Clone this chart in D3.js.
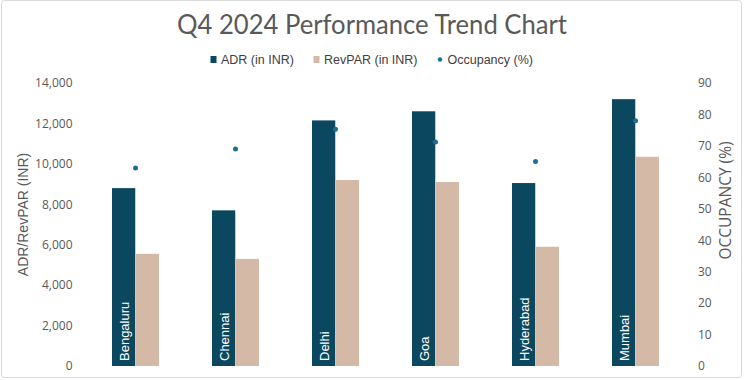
<!DOCTYPE html>
<html>
<head>
<meta charset="utf-8">
<script src="https://cdn.jsdelivr.net/npm/d3@7"></script>
<style>
  body { margin: 0; background: #fff; }
  svg { display: block; }
</style>
</head>
<body>
<script>
var width = 744;
var height = 380;

// data
var cities = ["Bengaluru", "Chennai", "Delhi", "Goa", "Hyderabad", "Mumbai"];
var adr = [8800, 7700, 12150, 12600, 9050, 13200];
var revpar = [5550, 5300, 9200, 9100, 5900, 10350];
var occupancy = [63, 69, 75.3, 71.2, 65, 78];
var leftTicks = [0, 2000, 4000, 6000, 8000, 10000, 12000, 14000];
var rightTicks = [0, 10, 20, 30, 40, 50, 60, 70, 80, 90];

var adrColor = "#0c4760";
var revColor = "#d3b9a6";
var occColor = "#1b6e96";
var textGray = "#595959";

var svg = d3.select("body")
    .append("svg")
    .attr("width", width)
    .attr("height", height)

// light frame round the chart
svg.append("rect")
    .attr("x", 1.5).attr("y", 0.5)
    .attr("width", 740).attr("height", 377)
    .attr("rx", 3)
    .attr("fill", "#fff")
    .attr("stroke", "#d9d9d9")

var plot = { left: 85.5, right: 685.5, top: 83, bottom: 366 };

var x = d3.scaleBand()
    .domain(cities)
    .range([plot.left, plot.right])
    .paddingInner(0.53)
    .paddingOuter(0.265)

var xSub = d3.scaleBand()
    .domain(["adr", "revpar"])
    .range([0, x.bandwidth()])
    .paddingInner(0.02)

var yLeft = d3.scaleLinear().domain([0, 14000]).range([plot.bottom, plot.top]);
var yRight = d3.scaleLinear().domain([0, 90]).range([plot.bottom, plot.top]);

// title
svg.append("text")
    .attr("x", 372).attr("y", 34)
    .attr("text-anchor", "middle")
    .attr("font-family", "Lato, 'Open Sans', sans-serif")
    .attr("font-size", 27)
    .attr("fill", textGray)
    .attr("textLength", 390)
    .attr("lengthAdjust", "spacingAndGlyphs")
    .text("Q4 2024 Performance Trend Chart")

// legend
var legend = svg.append("g")
    .attr("font-family", "'Liberation Sans', Arial, sans-serif")
    .attr("font-size", 12.5)
    .attr("fill", "#404040")

var lg = [
    { label: "ADR (in INR)", color: adrColor, type: "rect", x: 210.5 },
    { label: "RevPAR (in INR)", color: revColor, type: "rect", x: 313.5 },
    { label: "Occupancy (%)", color: occColor, type: "dot", x: 437 }
];
lg.forEach(function(d) {
    if (d.type == "rect") {
        legend.append("rect")
            .attr("x", d.x).attr("y", 56)
            .attr("width", 6).attr("height", 7)
            .attr("fill", d.color)
    } else {
        legend.append("circle")
            .attr("cx", d.x + 3).attr("cy", 59.5)
            .attr("r", 2.2)
            .attr("fill", d.color)
    }
    legend.append("text")
        .attr("x", d.x + 10.5).attr("y", 64)
        .text(d.label)
})

// left axis
var leftAxis = svg.append("g")
    .attr("transform", "translate(" + (plot.left - 13) + ",0)")
    .call(d3.axisLeft(yLeft).tickValues(leftTicks).tickFormat(d3.format(",")).tickSize(0).tickPadding(0))
leftAxis.select(".domain").remove();
leftAxis.selectAll("text")
    .attr("font-family", "'Open Sans', sans-serif")
    .attr("font-size", 12)
    .attr("fill", textGray)

// right axis
var rightAxis = svg.append("g")
    .attr("transform", "translate(" + (plot.right + 12.5) + ",0)")
    .call(d3.axisRight(yRight).tickValues(rightTicks).tickSize(0).tickPadding(0))
rightAxis.select(".domain").remove();
rightAxis.selectAll("text")
    .attr("font-family", "'Open Sans', sans-serif")
    .attr("font-size", 12)
    .attr("fill", textGray)

// axis titles
svg.append("text")
    .attr("transform", "translate(28," + ((plot.top + plot.bottom) / 2 - 10) + ") rotate(-90)")
    .attr("text-anchor", "middle")
    .attr("font-family", "'Liberation Sans', Arial, sans-serif")
    .attr("font-size", 14)
    .attr("fill", textGray)
    .text("ADR/RevPAR (INR)")

svg.append("text")
    .attr("transform", "translate(731," + ((plot.top + plot.bottom) / 2 - 24) + ") rotate(-90)")
    .attr("text-anchor", "middle")
    .attr("font-family", "'Open Sans', sans-serif")
    .attr("font-size", 15.5)
    .attr("fill", textGray)
    .text("OCCUPANCY (%)")

// bars
var groups = svg.append("g")
    .selectAll("g")
    .data(cities)
    .enter()
    .append("g")
    .attr("transform", function(d) { return "translate(" + x(d) + ",0)"; })

groups.append("rect")
    .attr("x", xSub("adr"))
    .attr("width", xSub.bandwidth())
    .attr("y", function(d, i) { return yLeft(adr[i]); })
    .attr("height", function(d, i) { return yLeft(0) - yLeft(adr[i]); })
    .attr("fill", adrColor)

groups.append("rect")
    .attr("x", xSub("revpar"))
    .attr("width", xSub.bandwidth())
    .attr("y", function(d, i) { return yLeft(revpar[i]); })
    .attr("height", function(d, i) { return yLeft(0) - yLeft(revpar[i]); })
    .attr("fill", revColor)

// city names inside the ADR bars
groups.append("text")
    .attr("transform", function(d) {
        return "translate(" + (xSub("adr") + xSub.bandwidth() / 2 + 0.5) + "," + (plot.bottom - 5) + ") rotate(-90)";
    })
    .attr("dominant-baseline", "central")
    .attr("font-family", "'Liberation Sans', Arial, sans-serif")
    .attr("font-size", 13)
    .attr("fill", "#fff")
    .text(function(d) { return d; })

// occupancy dots
svg.append("g")
    .selectAll("circle")
    .data(cities)
    .enter()
    .append("circle")
    .attr("cx", function(d) { return x(d) + x.bandwidth() / 2; })
    .attr("cy", function(d, i) { return yRight(occupancy[i]); })
    .attr("r", 2.5)
    .attr("fill", occColor)
</script>
</body>
</html>
